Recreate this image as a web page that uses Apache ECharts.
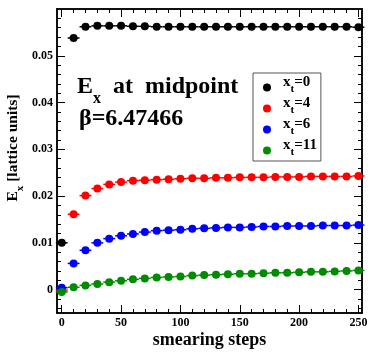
<!DOCTYPE html>
<html>
<head>
<meta charset="utf-8">
<script src="https://cdn.jsdelivr.net/npm/echarts@6/dist/echarts.min.js"></script>
<style>
  html, body { margin: 0; padding: 0; background: #fff; }
  #chart { width: 374px; height: 355px; }
</style>
</head>
<body>
<div id="chart"></div>
<script>
// smearing steps
var steps = [0, 10, 20, 30, 40, 50, 60, 70, 80, 90, 100, 110, 120, 130, 140, 150, 160, 170, 180, 190, 200, 210, 220, 230, 240, 250];

// E_x for each x_t
var ex0 = [0.0100, 0.0538, 0.0562, 0.0564, 0.0564, 0.0564, 0.0563, 0.0563, 0.0562, 0.0562, 0.0562, 0.0562, 0.0562, 0.0562, 0.0562, 0.0562, 0.0562, 0.0562, 0.0562, 0.0562, 0.0562, 0.0562, 0.0562, 0.0562, 0.0562, 0.0561];
var ex4 = [-0.0001, 0.0161, 0.0201, 0.0216, 0.0225, 0.0230, 0.0233, 0.0234, 0.0235, 0.0236, 0.0237, 0.0238, 0.0238, 0.0239, 0.0239, 0.0240, 0.0240, 0.0240, 0.0241, 0.0241, 0.0241, 0.0242, 0.0242, 0.0242, 0.0242, 0.0243];
var ex6 = [0.0004, 0.0056, 0.0084, 0.0100, 0.0109, 0.0115, 0.0119, 0.0123, 0.0126, 0.0127, 0.0128, 0.0130, 0.0131, 0.0132, 0.0133, 0.0133, 0.0134, 0.0135, 0.0135, 0.0136, 0.0136, 0.0136, 0.0137, 0.0137, 0.0137, 0.0138];
var ex11 = [-0.0005, 0.0005, 0.0009, 0.0012, 0.0016, 0.0019, 0.0022, 0.0024, 0.0026, 0.0027, 0.0028, 0.0030, 0.0031, 0.0032, 0.0033, 0.0034, 0.0034, 0.0035, 0.0036, 0.0036, 0.0037, 0.0038, 0.0038, 0.0039, 0.0040, 0.0041];

var xtLabels = ['0', '4', '6', '11'];
var colors = ['#000000', '#ff0000', '#0000ff', '#008b00'];

// tick labels
var xMajor = [0, 50, 100, 150, 200, 250];
var xMinor = [10, 20, 30, 40, 60, 70, 80, 90, 110, 120, 130, 140, 160, 170, 180, 190, 210, 220, 230, 240];
var yMajor = [0, 0.01, 0.02, 0.03, 0.04, 0.05];
var yMinor = [-0.004, -0.002, 0.002, 0.004, 0.006, 0.008, 0.012, 0.014, 0.016, 0.018, 0.022, 0.024, 0.026, 0.028,
  0.032, 0.034, 0.036, 0.038, 0.042, 0.044, 0.046, 0.048, 0.052, 0.054, 0.056, 0.058];

var FONT = 'Liberation Serif';
var HALF = 5; // half width of the horizontal bar on each point

var chart = echarts.init(document.getElementById('chart'), null, { renderer: 'canvas' });

function xAxisOf(pos, ticks, len, labels) {
  return {
    type: 'value', position: pos, min: -4, max: 253,
    axisLine: { show: true, onZero: false, lineStyle: { color: '#000', width: 1.5 } },
    axisTick: { show: true, inside: true, length: len, customValues: ticks, lineStyle: { color: '#000', width: 1 } },
    axisLabel: labels ? { show: true, customValues: ticks, color: '#000', fontFamily: FONT, fontWeight: 'bold', fontSize: 12, margin: 4 } : { show: false },
    splitLine: { show: false }
  };
}
function yAxisOf(pos, ticks, len, labels) {
  return {
    type: 'value', position: pos, min: -0.005, max: 0.06,
    axisLine: { show: true, onZero: false, lineStyle: { color: '#000', width: 1.5 } },
    axisTick: { show: true, inside: true, length: len, customValues: ticks, lineStyle: { color: '#000', width: 1 } },
    axisLabel: labels ? { show: true, customValues: ticks, color: '#000', fontFamily: FONT, fontWeight: 'bold', fontSize: 12, margin: 4 } : { show: false },
    splitLine: { show: false }
  };
}

function renderBar(params, api) {
  var x = api.value(0), y = api.value(1);
  var p1 = api.coord([x - HALF, y]);
  var p2 = api.coord([x + HALF, y]);
  return {
    type: 'line',
    shape: { x1: p1[0], y1: p1[1], x2: p2[0], y2: p2[1] },
    style: { stroke: api.visual('color'), lineWidth: 1.5 }
  };
}

var seriesData = [ex0, ex4, ex6, ex11];
var names = xtLabels.map(function (v) { return 'xt=' + v; });
var series = [];
seriesData.forEach(function (vals, i) {
  var pts = steps.map(function (s, j) { return [s, vals[j]]; });
  series.push({
    type: 'custom', renderItem: renderBar, data: pts,
    itemStyle: { color: colors[i] }, z: 2, silent: true
  });
});
seriesData.forEach(function (vals, i) {
  var pts = steps.map(function (s, j) { return [s, vals[j]]; });
  series.push({
    name: names[i], type: 'scatter', data: pts, symbol: 'circle', symbolSize: 8,
    itemStyle: { color: colors[i], opacity: 1 }, z: 3
  });
});

var option = {
  animation: false,
  backgroundColor: '#fff',
  grid: { left: 57, right: 12, top: 9, bottom: 42, containLabel: false, outerBoundsMode: 'none' },
  xAxis: [
    Object.assign(xAxisOf('bottom', xMajor, 8, true), {
      name: 'smearing steps', nameLocation: 'middle', nameGap: 18, nameMoveOverlap: false,
      nameTextStyle: { color: '#000', fontFamily: FONT, fontWeight: 'bold', fontSize: 18 }
    }),
    xAxisOf('bottom', xMinor, 4, false),
    xAxisOf('top', xMajor, 8, false),
    xAxisOf('top', xMinor, 4, false)
  ],
  yAxis: [
    Object.assign(yAxisOf('left', yMajor, 8, true), {
      name: '{e|E}{s|x}{e| [lattice units]}', nameLocation: 'middle', nameGap: 31, nameRotate: 90,
      nameMoveOverlap: false,
      nameTextStyle: {
        color: '#000', fontFamily: FONT, fontWeight: 'bold', fontSize: 15, padding: [0, 0, 0, 26],
        rich: {
          e: { fontFamily: FONT, fontWeight: 'bold', fontSize: 15.5, lineHeight: 16, padding: [0, 0, 5, 0], verticalAlign: 'bottom' },
          s: { fontFamily: FONT, fontWeight: 'bold', fontSize: 11, lineHeight: 11, padding: [10, 0, 0, 0], verticalAlign: 'bottom' }
        }
      }
    }),
    yAxisOf('left', yMinor, 4, false),
    yAxisOf('right', yMajor, 8, false),
    yAxisOf('right', yMinor, 4, false)
  ],
  legend: {
    data: names, orient: 'vertical', left: 253, top: 73,
    backgroundColor: '#fff', borderColor: '#555', borderWidth: 1,
    padding: [2, 4, 3, 10], itemWidth: 8, itemHeight: 8, itemGap: 1, icon: 'circle',
    formatter: function (name) { return '{f|x}{b|t}{a|=' + name.split('=')[1] + '}'; },
    textStyle: {
      color: '#000',
      rich: {
        f: { fontFamily: FONT, fontWeight: 'bold', fontSize: 15, lineHeight: 15, padding: [0, 0, 5, 7], verticalAlign: 'bottom' },
        a: { fontFamily: FONT, fontWeight: 'bold', fontSize: 15, lineHeight: 15, padding: [0, 0, 5, 0], verticalAlign: 'bottom' },
        b: { fontFamily: FONT, fontWeight: 'bold', fontSize: 11, lineHeight: 11, padding: [9, 0, 0, 0], verticalAlign: 'bottom' }
      }
    }
  },
  graphic: [
    {
      type: 'text', left: 77, top: 75, z: 10,
      style: {
        text: '{e|E}{s|x}{e|  at  midpoint}', fill: '#000',
        rich: {
          e: { fontFamily: FONT, fontWeight: 'bold', fontSize: 24, lineHeight: 24, padding: [0, 0, 8, 0], verticalAlign: 'bottom', fill: '#000' },
          s: { fontFamily: FONT, fontWeight: 'bold', fontSize: 16, lineHeight: 16, padding: [16, 0, 0, 0], verticalAlign: 'bottom', fill: '#000' }
        }
      }
    },
    {
      type: 'text', left: 79, top: 107, z: 10,
      style: { text: 'β=6.47466', fill: '#000', fontFamily: FONT, fontWeight: 'bold', fontSize: 24 }
    }
  ],
  series: series
};

chart.setOption(option);
</script>
</body>
</html>
